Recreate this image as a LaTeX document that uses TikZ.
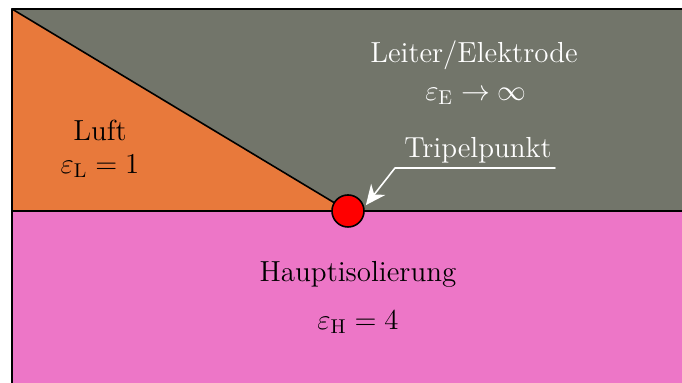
\documentclass[tikz,border=0pt]{standalone}
\usetikzlibrary{arrows.meta}

\definecolor{leitergrau}{RGB}{114,117,106}
\definecolor{luftorange}{RGB}{232,121,59}
\definecolor{isorosa}{RGB}{237,118,199}

\begin{document}
\begin{tikzpicture}[x=0.5pt, y=-0.5pt, line cap=round, line join=round,
  font=\fontsize{14.5}{18}\selectfont,
  lbl/.style={align=center, inner sep=1pt}]

\useasboundingbox (0,0) rectangle (682,383);

% Eckpunkte der Bereiche
\coordinate (A) at (12,9);
\coordinate (B) at (700,9);
\coordinate (P) at (348,211);
\coordinate (L) at (12,211);
\coordinate (R) at (700,211);
\coordinate (U) at (12,400);
\coordinate (V) at (700,400);

% Flaechen
\fill[leitergrau] (A) -- (B) -- (R) -- (P) -- cycle;
\fill[luftorange] (A) -- (P) -- (L) -- cycle;
\fill[isorosa] (L) -- (R) -- (V) -- (U) -- cycle;

% Grenzlinien
\draw[thick] (A) -- (P);
\draw[thick] (L) -- (R);
\draw[line width=1.4pt] (U) -- (A) -- (B);

% Tripelpunkt
\node[circle, draw, fill=red, thick, minimum size=16pt, inner sep=0] (tp) at (P) {};

% Beschriftungen
\node[lbl] (luft) at (100,130) {Luft};
\node[lbl] (epsL) at (100,166) {$\varepsilon_{\mathrm{L}} = 1$};
\node[lbl, text=white] (leiter) at (474,55) {Leiter/Elektrode};
\node[lbl, text=white] (epsE) at (476,96) {$\varepsilon_{\mathrm{E}} \rightarrow \infty$};
\node[lbl] (haupt) at (358,274) {Hauptisolierung};
\node[lbl] (epsH) at (358,322) {$\varepsilon_{\mathrm{H}} = 4$};
\node[lbl, text=white] (tplabel) at (478,150) {Tripelpunkt};

% Zeiger auf den Tripelpunkt
\coordinate (z1) at (555,168);
\coordinate (z2) at (395,168);
\draw[white, thick, -{Stealth[length=10pt,width=9pt]}] (z1) -- (z2) -- ([shift={(3pt,-3pt)}]tp.north east);

\end{tikzpicture}
\end{document}
